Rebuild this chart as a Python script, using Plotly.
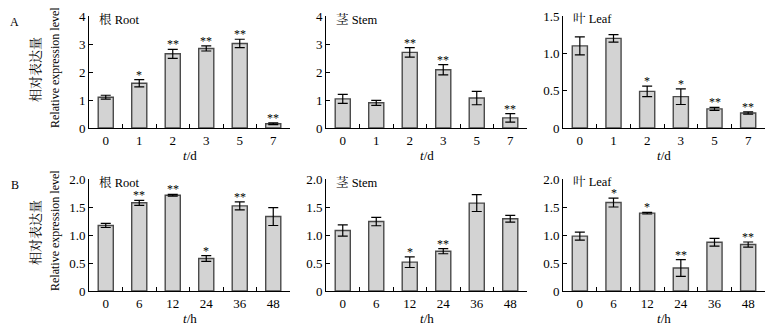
import plotly.graph_objects as go
from plotly.subplots import make_subplots

# ---------------- data ----------------
days = ["0", "1", "2", "3", "5", "7"]
hours = ["0", "6", "12", "24", "36", "48"]

root_d = [1.10, 1.60, 2.65, 2.84, 3.02, 0.15]
root_d_err = [0.07, 0.13, 0.16, 0.09, 0.15, 0.03]
root_d_sig = ["", "*", "**", "**", "**", "**"]

stem_d = [1.04, 0.90, 2.70, 2.08, 1.07, 0.36]
stem_d_err = [0.16, 0.09, 0.17, 0.18, 0.24, 0.15]
stem_d_sig = ["", "", "**", "**", "", "**"]

leaf_d = [1.10, 1.20, 0.49, 0.42, 0.256, 0.20]
leaf_d_err = [0.12, 0.05, 0.07, 0.105, 0.02, 0.015]
leaf_d_sig = ["", "", "*", "*", "**", "**"]

root_h = [1.17, 1.575, 1.71, 0.58, 1.52, 1.33]
root_h_err = [0.036, 0.045, 0.015, 0.05, 0.07, 0.16]
root_h_sig = ["", "**", "**", "*", "**", ""]

stem_h = [1.08, 1.24, 0.515, 0.71, 1.57, 1.29]
stem_h_err = [0.10, 0.075, 0.095, 0.045, 0.15, 0.06]
stem_h_sig = ["", "", "*", "**", "", ""]

leaf_h = [0.98, 1.58, 1.39, 0.41, 0.87, 0.83]
leaf_h_err = [0.07, 0.08, 0.015, 0.15, 0.07, 0.045]
leaf_h_sig = ["", "*", "*", "**", "", "**"]

panel_titles = ["根 Root", "茎 Stem", "叶 Leaf"]
ytick_A_big = [0, 1, 2, 3, 4]
ytick_A_leaf = [0, 0.5, 1.0, 1.5]
ytick_A_leaf_txt = ["0", "0.5", "1.0", "1.5"]
ytick_B = [0, 0.5, 1.0, 1.5, 2.0]
ytick_B_txt = ["0", "0.5", "1.0", "1.5", "2.0"]

# ---------------- layout helpers ----------------
# The page body has an 8 px margin, so the figure is drawn 8 px smaller and
# all target pixel positions are shifted by that offset.
OFF = 8
W, H = 775 - OFF, 330 - OFF
FONT = "Liberation Serif, 'Noto Serif CJK SC', 'Noto Sans CJK SC', serif"
BAR_FILL = "#d3d3d3"
BAR_LINE = "#4a4a4a"

col_px = [(89, 290), (326, 527), (563, 765)]
row_px = [(16, 128), (179, 291)]

def px_x(x):
    return (x - OFF) / W

def px_y(y):
    return 1 - (y - OFF) / H

fig = make_subplots(rows=2, cols=3)

panels = [
    (1, 1, days, root_d, root_d_err, root_d_sig, [0, 4], ytick_A_big, [str(v) for v in ytick_A_big]),
    (1, 2, days, stem_d, stem_d_err, stem_d_sig, [0, 4], ytick_A_big, [str(v) for v in ytick_A_big]),
    (1, 3, days, leaf_d, leaf_d_err, leaf_d_sig, [0, 1.5], ytick_A_leaf, ytick_A_leaf_txt),
    (2, 1, hours, root_h, root_h_err, root_h_sig, [0, 2], ytick_B, ytick_B_txt),
    (2, 2, hours, stem_h, stem_h_err, stem_h_sig, [0, 2], ytick_B, ytick_B_txt),
    (2, 3, hours, leaf_h, leaf_h_err, leaf_h_sig, [0, 2], ytick_B, ytick_B_txt),
]

annotations = []
for idx, (r, c, cats, vals, errs, sigs, yr, tv, tt) in enumerate(panels):
    fig.add_trace(
        go.Bar(
            x=cats, y=vals, width=0.45,
            marker=dict(color=BAR_FILL, line=dict(color=BAR_LINE, width=1.4)),
            error_y=dict(type="data", array=errs, color="black", thickness=1.2, width=5),
            showlegend=False,
        ),
        row=r, col=c,
    )
    n = idx + 1
    xname = "x" if n == 1 else f"x{n}"
    yname = "y" if n == 1 else f"y{n}"
    x0, x1 = col_px[c - 1]
    y0, y1 = row_px[r - 1]
    fig.update_xaxes(
        row=r, col=c, type="category", range=[-0.5, 5.5],
        domain=[px_x(x0), px_x(x1)], automargin=False,
        showline=True, linecolor="black", linewidth=1,
        ticks="inside", tickson="boundaries", ticklen=4, tickcolor="black",
        showgrid=False, zeroline=False,
        tickfont=dict(family=FONT, size=13, color="black"),
    )
    fig.update_yaxes(
        row=r, col=c, range=yr,
        domain=[px_y(y1), px_y(y0)], automargin=False,
        showline=True, linecolor="black", linewidth=1,
        ticks="inside", ticklen=4, tickcolor="black",
        tickvals=tv, ticktext=tt,
        showgrid=False, zeroline=False,
        tickfont=dict(family=FONT, size=13, color="black"),
    )
    # significance marks (category index as x)
    for i, (v, e, s) in enumerate(zip(vals, errs, sigs)):
        if s:
            annotations.append(dict(
                x=i, y=v + e, xref=xname, yref=yname, text=s,
                showarrow=False, yanchor="bottom", yshift=-4,
                font=dict(family=FONT, size=12, color="black"),
            ))
    # panel title
    annotations.append(dict(
        x=px_x(x0 + 8), y=px_y(y0 + 3), xref="paper", yref="paper",
        text=panel_titles[c - 1], showarrow=False,
        xanchor="left", yanchor="middle",
        font=dict(family=FONT, size=12.5, color="black"),
    ))
    # x axis title
    unit = "d" if r == 1 else "h"
    annotations.append(dict(
        x=px_x((x0 + x1) / 2), y=px_y(y1 + 27), xref="paper", yref="paper",
        text=f"<i>t</i>/{unit}", showarrow=False,
        xanchor="center", yanchor="middle",
        font=dict(family=FONT, size=13, color="black"),
    ))

# row labels and y titles
for (y0, y1), lab in zip(row_px, ["A", "B"]):
    annotations.append(dict(
        x=px_x(15), y=px_y(y0 + 6), xref="paper", yref="paper", text=lab,
        showarrow=False, xanchor="center", yanchor="middle",
        font=dict(family=FONT, size=12, color="black"),
    ))
    cy = (y0 + y1) / 2
    annotations.append(dict(
        x=px_x(35), y=px_y(cy - 2), xref="paper", yref="paper", text="相对表达量",
        showarrow=False, xanchor="center", yanchor="middle", textangle=-90,
        font=dict(family=FONT, size=13, color="black"),
    ))
    annotations.append(dict(
        x=px_x(55), y=px_y(cy - 4), xref="paper", yref="paper", text="Relative expression level",
        showarrow=False, xanchor="center", yanchor="middle", textangle=-90,
        font=dict(family=FONT, size=12, color="black"),
    ))

fig.update_layout(
    width=W, height=H,
    margin=dict(l=0, r=0, t=0, b=0),
    paper_bgcolor="white", plot_bgcolor="white",
    annotations=annotations,
    font=dict(family=FONT, color="black"),
)

fig.write_html("out.html")
